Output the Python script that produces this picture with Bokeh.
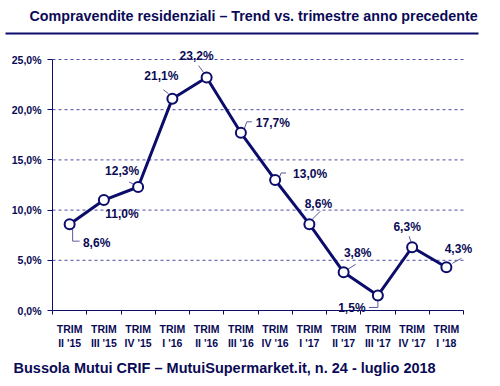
from bokeh.plotting import figure
from bokeh.models import FixedTicker, ColumnDataSource, Range1d, Label
from bokeh.core.properties import value
from bokeh.embed import file_html
from bokeh.resources import INLINE

# ---- data ----
quarters = ["TRIM\nII '15", "TRIM\nIII '15", "TRIM\nIV '15", "TRIM\nI '16",
            "TRIM\nII '16", "TRIM\nIII '16", "TRIM\nIV '16", "TRIM\nI '17",
            "TRIM\nII '17", "TRIM\nIII '17", "TRIM\nIV '17", "TRIM\nI '18"]
trend = [8.6, 11.0, 12.3, 21.1, 23.2, 17.7, 13.0, 8.6, 3.8, 1.5, 6.3, 4.3]
value_labels = ["8,6%", "11,0%", "12,3%", "21,1%", "23,2%", "17,7%",
                "13,0%", "8,6%", "3,8%", "1,5%", "6,3%", "4,3%"]
y_ticks = [0, 5, 10, 15, 20, 25]
y_tick_labels = ["0,0%", "5,0%", "10,0%", "15,0%", "20,0%", "25,0%"]

title_text = "Compravendite residenziali \u2013 Trend vs. trimestre anno precedente"
footer_text = "Bussola Mutui CRIF \u2013 MutuiSupermarket.it, n. 24 - luglio 2018"

# ---- styles / label placement (screen px, y down) ----
NAVY = "#0c0c6a"
TXT = "#0a0a55"
FONT = "Liberation Sans"
lab_dx = [27, 18, -16, -11, -10, 32, 35, 9, 14, -26, -5, 12]
lab_dy = [19, 14, -16, -23, -22, -10, -6, -20, -19, 13, -20, -18]
leaders = [
    [(3, 5), (3, 17), (10, 17)],
    None,
    [(-3, -2), (-9, -5)],
    [(-4, -5), (-9, -9)],
    [(-3, -5), (-8, -12)],
    [(3, -3), (6, -11), (11, -11)],
    [(4, -2), (6, -7), (11, -7)],
    [(3, -5), (11, -13)],
    [(4, -3), (12, -8)],
    [(0, 6), (0, 12), (-9, 12)],
    [(-1, -5), (-3, -11)],
    [(6, -4), (15, -9)],
]

n = len(trend)
W, H = 492, 378
# page-pixel layout of the chart (whole canvas is the frame)
AX_L, AX_R, AX_B, AX_T = 52, 463, 310, 59   # category span / value 0 / value 25
ppx = (AX_R - AX_L) / n
ppy = (AX_B - AX_T) / 25.0


def xd(px):
    return -0.5 + (px - AX_L) / ppx


def yd(py):
    return (AX_B - py) / ppy


p = figure(width=W, height=H, output_backend="svg", toolbar_location=None,
           x_range=Range1d(xd(0), xd(W)), y_range=Range1d(yd(H), yd(0)),
           min_border_left=0, min_border_right=0,
           min_border_top=0, min_border_bottom=0)
p.outline_line_color = None
p.background_fill_color = "white"
p.border_fill_color = "white"

# title, rule and footer (screen units: frame-relative, y up)
p.add_layout(Label(x=29, y=H - 15, x_units="screen", y_units="screen",
                   text=title_text, text_font=FONT, text_font_style="bold",
                   text_font_size="14.3px", text_color=TXT, text_baseline="middle"))
p.segment(x0=[xd(5)], x1=[xd(478)], y0=[yd(33)], y1=[yd(33)],
          line_color=NAVY, line_width=2)
p.add_layout(Label(x=13, y=H - 367, x_units="screen", y_units="screen",
                   text=footer_text, text_font=FONT, text_font_style="bold",
                   text_font_size="14.5px", text_color=TXT, text_baseline="middle"))

# grid (dashed, drawn only across the category span)
p.xgrid.grid_line_color = None
p.ygrid.grid_line_color = None
gy = y_ticks[1:]
p.segment(x0=[-0.5] * len(gy), x1=[n - 0.5] * len(gy), y0=gy, y1=gy,
          line_color="#4c4ca4", line_dash="3 3", line_width=1)

# y axis, pinned to the left edge of the category span
p.yaxis.fixed_location = -0.5
p.yaxis.ticker = FixedTicker(ticks=y_ticks)
p.yaxis.bounds = (0, 25)
p.yaxis.major_label_overrides = {t: l for t, l in zip(y_ticks, y_tick_labels)}
p.yaxis.axis_line_color = NAVY
p.yaxis.major_tick_line_color = NAVY
p.yaxis.major_tick_out = 5
p.yaxis.major_tick_in = 0
p.yaxis.minor_tick_line_color = None
p.yaxis.major_label_text_font = FONT
p.yaxis.major_label_text_font_style = "bold"
p.yaxis.major_label_text_font_size = "10.5px"
p.yaxis.major_label_text_color = TXT
p.yaxis.major_label_standoff = 6

# x axis, pinned at value 0
xt = list(range(n))
p.xaxis.fixed_location = 0
p.xaxis.ticker = FixedTicker(ticks=xt, minor_ticks=[i - 0.5 for i in range(n + 1)])
p.xaxis.bounds = (-0.5, n - 0.5)
p.xaxis.major_label_overrides = {i: q for i, q in zip(xt, quarters)}
p.xaxis.axis_line_color = NAVY
p.xaxis.major_tick_line_color = None
p.xaxis.minor_tick_line_color = NAVY
p.xaxis.minor_tick_out = 4
p.xaxis.minor_tick_in = 0
p.xaxis.major_label_text_font = FONT
p.xaxis.major_label_text_font_style = "bold"
p.xaxis.major_label_text_font_size = "10.5px"
p.xaxis.major_label_text_color = TXT
p.xaxis.major_label_standoff = 6

# data
src = ColumnDataSource(dict(x=xt, y=trend, lab=value_labels, dx=lab_dx, dy=lab_dy))
p.line("x", "y", source=src, line_color=NAVY, line_width=3)

lx, ly = [], []
for i, seg in enumerate(leaders):
    if seg is None:
        continue
    lx.append([xt[i] + a / ppx for a, b in seg])
    ly.append([trend[i] - b / ppy for a, b in seg])
p.multi_line(lx, ly, line_color="#5a5a9e", line_width=1)

p.scatter("x", "y", source=src, size=10, fill_color="white", line_color=NAVY,
          line_width=2)
p.text("x", "y", text="lab", source=src, x_offset="dx", y_offset="dy",
       text_align="center", text_baseline="middle", text_font=value(FONT),
       text_font_style="bold", text_font_size="12px", text_color=TXT)

open("out.html", "w").write(file_html(p, INLINE))
